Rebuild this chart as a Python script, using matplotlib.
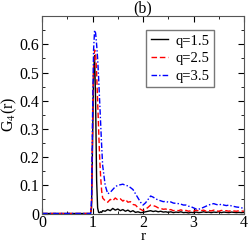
import numpy as np
import matplotlib.pyplot as plt
from matplotlib.ticker import MultipleLocator

plt.rcParams['font.family'] = ['Liberation Serif', 'DejaVu Serif']
plt.rcParams['mathtext.fontset'] = 'stix'

# r grid (fine around the first peak)
r = [0.0, 0.96, 0.98, 1.00, 1.02, 1.04, 1.06, 1.08, 1.10, 1.12, 1.14, 1.16, 1.18,
     1.20, 1.25, 1.30, 1.35, 1.40, 1.45, 1.50, 1.55, 1.60, 1.65, 1.70, 1.75,
     1.80, 1.85, 1.90, 1.95, 2.00, 2.05, 2.10, 2.15, 2.20, 2.25, 2.30, 2.35,
     2.40, 2.45, 2.50, 2.55, 2.60, 2.65, 2.70, 2.75, 2.80, 2.85, 2.90, 2.95,
     3.00, 3.05, 3.10, 3.15, 3.20, 3.25, 3.30, 3.35, 3.40, 3.45, 3.50, 3.55,
     3.60, 3.65, 3.70, 3.75, 3.80, 3.85, 3.90, 3.95, 4.00]

g_q15 = [0.0, 0.0, 0.02, 0.25, 0.50, 0.56, 0.40, 0.12, 0.02, 0.004, 0.003, 0.006,
         0.004, 0.010, 0.008, 0.014, 0.010, 0.018, 0.012, 0.016, 0.010, 0.014,
         0.008, 0.012, 0.006, 0.010, 0.004, 0.006, 0.003, 0.004, 0.006, 0.008,
         0.010, 0.007, 0.009, 0.006, 0.008, 0.005, 0.006, 0.004, 0.006, 0.003,
         0.005, 0.004, 0.006, 0.003, 0.004, 0.002, 0.004, 0.003, 0.005, 0.003,
         0.004, 0.006, 0.004, 0.005, 0.003, 0.005, 0.004, 0.006, 0.003, 0.005,
         0.004, 0.003, 0.005, 0.004, 0.003, 0.004, 0.003, 0.004]

g_q25 = [0.0, 0.0, 0.03, 0.30, 0.52, 0.58, 0.57, 0.50, 0.40, 0.30, 0.20, 0.13,
         0.08, 0.055, 0.045, 0.040, 0.050, 0.045, 0.055, 0.048, 0.052, 0.044,
         0.050, 0.040, 0.042, 0.032, 0.030, 0.020, 0.015, 0.010, 0.015, 0.022,
         0.030, 0.028, 0.025, 0.020, 0.018, 0.015, 0.016, 0.012, 0.014, 0.010,
         0.012, 0.010, 0.013, 0.009, 0.011, 0.008, 0.010, 0.008, 0.012, 0.009,
         0.010, 0.012, 0.008, 0.011, 0.009, 0.012, 0.010, 0.008, 0.011, 0.009,
         0.010, 0.008, 0.011, 0.009, 0.008, 0.010, 0.009, 0.008]

g_q35 = [0.0, 0.0, 0.05, 0.35, 0.58, 0.65, 0.64, 0.60, 0.55, 0.48, 0.40, 0.32,
         0.24, 0.17, 0.10, 0.07, 0.075, 0.085, 0.095, 0.100, 0.102, 0.104,
         0.100, 0.098, 0.092, 0.085, 0.070, 0.055, 0.040, 0.030, 0.038, 0.050,
         0.062, 0.058, 0.052, 0.048, 0.045, 0.042, 0.043, 0.040, 0.041, 0.037,
         0.036, 0.035, 0.033, 0.030, 0.030, 0.026, 0.024, 0.020, 0.016, 0.015,
         0.018, 0.022, 0.026, 0.030, 0.033, 0.035, 0.032, 0.030, 0.033, 0.030,
         0.028, 0.030, 0.027, 0.025, 0.023, 0.022, 0.020, 0.019]

fig = plt.figure(figsize=(2.49, 2.44), dpi=100)
ax = fig.add_axes([0.169, 0.125, 0.811, 0.809])

ax.plot(r, g_q15, color='black', lw=1.0, ls='-', label='q=1.5')
ax.plot(r, g_q25, color='red', lw=1.0, ls=(0, (4, 2)), label='q=2.5')
ax.plot(r, g_q35, color='blue', lw=1.0, ls=(0, (4, 1.5, 1, 1.5)), label='q=3.5')

ax.set_xlim(0, 4)
ax.set_ylim(0, 0.7)
ax.set_xticks([0, 1, 2, 3, 4])
ax.set_yticks([0, 0.1, 0.2, 0.3, 0.4, 0.5, 0.6])
ax.set_yticklabels(['0', '0.1', '0.2', '0.3', '0.4', '0.5', '0.6'])
ax.xaxis.set_minor_locator(MultipleLocator(0.5))
ax.yaxis.set_minor_locator(MultipleLocator(0.05))
ax.tick_params(which='both', direction='in', top=True, right=True, labelsize=11.5, pad=2)
ax.tick_params(axis='x', pad=1)
ax.tick_params(which='major', length=4)
ax.tick_params(which='minor', length=2)
for s in ax.spines.values():
    s.set_color('#555555')

ax.set_title('(b)', fontsize=11.5, pad=1)
ax.set_xlabel('r', fontsize=11, labelpad=-1)
ax.set_ylabel(r'G$_4$(r)', fontsize=11.5, labelpad=0)

ax.legend(loc='upper right', bbox_to_anchor=(0.85, 0.93), fontsize=10.5, frameon=True,
          fancybox=False, edgecolor='#555555', handlelength=1.2, handletextpad=0.5,
          borderpad=0.3, labelspacing=0.3, borderaxespad=0.0)

fig.savefig('out.png', dpi=100)
